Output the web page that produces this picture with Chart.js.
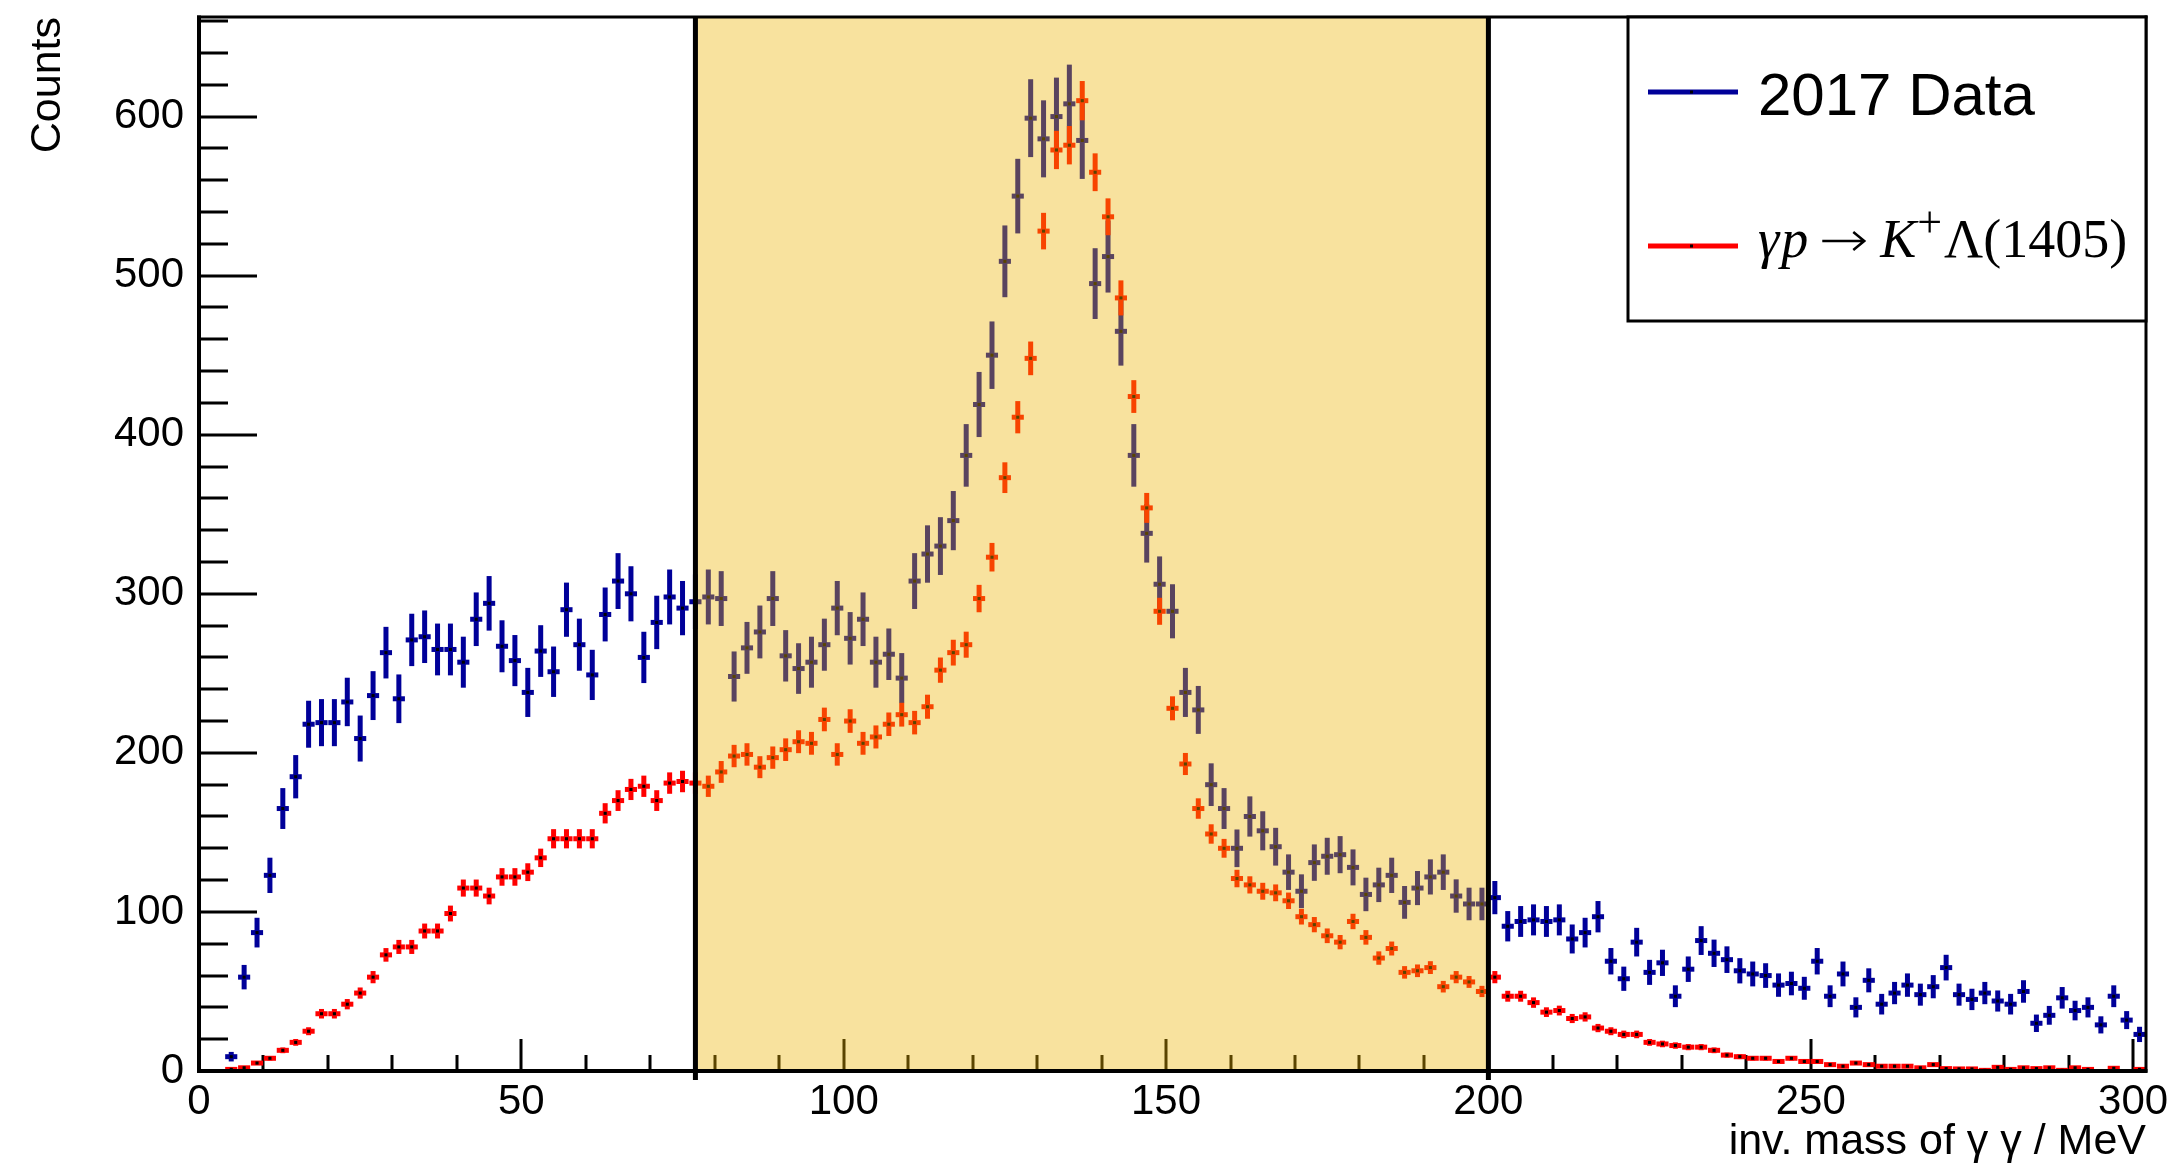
<!DOCTYPE html>
<html>
<head>
<meta charset="utf-8">
<script src="https://cdn.jsdelivr.net/npm/chart.js@4.4.0/dist/chart.umd.min.js"></script>
<style>
  html, body { margin: 0; padding: 0; background: #fff; }
  canvas { display: block; }
</style>
</head>
<body>
<canvas id="c" width="2172" height="1168"></canvas>
<script>
// histogram: 2 MeV bins from 0 to 302 MeV, values are bin contents
const binWidth = 2;
const xRange = [0, 302];
const yRange = [0, 662.6];
const binCentres = [];
for (let m = xRange[0] + binWidth / 2; m < xRange[1]; m += binWidth) binCentres.push(m);

// 2017 data (counts per bin)
const dataCounts = [
  null, null, 9, 59, 87, 123, 165, 185, 218, 219,
  219, 232, 209, 236, 263, 234, 271, 273, 265, 265,
  257, 284, 294, 267, 258, 238, 264, 251, 290, 268,
  249, 287, 308, 300, 260, 282, 298, 291, 295, 298,
  297, 248, 266, 276, 297, 261, 253, 257, 268, 291,
  272, 284, 257, 262, 247, 308, 325, 330, 346, 387,
  419, 450, 509, 550, 599, 586, 600, 608, 585, 495,
  512, 465, 387, 338, 306, 289, 238, 227, 180, 165,
  140, 160, 151, 141, 125, 113, 131, 135, 136, 128,
  111, 117, 123, 106, 115, 122, 125, 110, 105, 105,
  109, 91, 94, 95, 94, 95, 83, 87, 97, 69,
  58, 81, 62, 68, 47, 64, 82, 74, 70, 63,
  61, 60, 54, 55, 52, 69, 47, 61, 40, 57,
  42, 49, 54, 48, 53, 65, 48, 45, 49, 44,
  42, 50, 30, 35, 46, 38, 40, 29, 47, 32,
  23
];

// simulation gamma p -> K+ Lambda(1405), scaled
const mcCounts = [
  null, null, 1, 2, 5, 8, 13, 18, 25, 36,
  36, 42, 49, 59, 73, 78, 78, 88, 88, 99,
  115, 115, 110, 122, 122, 125, 134, 146, 146, 146,
  146, 162, 170, 177, 179, 170, 181, 182, 181, 179,
  188, 198, 199, 191, 197, 202, 207, 206, 221, 199,
  220, 206, 210, 218, 224, 219, 229, 252, 263, 268,
  297, 323, 373, 411, 448, 528, 579, 582, 610, 565,
  537, 486, 424, 354, 289, 228, 193, 165, 149, 140,
  121, 117, 113, 112, 107, 97, 92, 85, 81, 94,
  84, 71, 77, 62, 63, 65, 53, 59, 56, 50,
  59, 47, 47, 43, 37, 38, 33, 34, 27, 25,
  23, 23, 18, 17, 16, 15, 15, 13, 10, 9,
  8, 8, 6, 8, 6, 6, 4, 3, 5, 4,
  3, 3, 3, 2, 4, 1.5, 1.3, 1.3, 0.4, 2.3,
  1, 2, 1.5, 2, 0.4, 2, 1, null, 1.7, null,
  1
];

const xTickValues = [0, 50, 100, 150, 200, 250, 300];
const yTickValues = [0, 100, 200, 300, 400, 500, 600];
const signalWindow = [77, 200];
const seriesLabels = ['2017 Data', 'γp → K⁺Λ(1405)'];

const SANS = "'Liberation Sans', Arial, Helvetica, sans-serif";
const SERIF = "'Liberation Serif', 'Times New Roman', serif";

function toPoints(counts) {
  const pts = [];
  counts.forEach((v, i) => { if (v !== null) pts.push({ x: binCentres[i], y: v }); });
  return pts;
}

// ROOT-like drawing: inside ticks, error crosses, shaded window, frame, legend
const rootStyle = {
  id: 'rootStyle',
  beforeDatasetsDraw(chart) {
    const ctx = chart.ctx, xs = chart.scales.x, ys = chart.scales.y, a = chart.chartArea;
    ctx.save();
    ctx.fillStyle = '#000';
    for (let v = 0; v <= yRange[1]; v += 20) {
      const py = Math.round(ys.getPixelForValue(v));
      const len = v % 100 === 0 ? 58 : 29;
      ctx.fillRect(a.left, py - 1.5, len, 3);
    }
    for (let v = 0; v <= xRange[1]; v += 10) {
      const px = Math.round(xs.getPixelForValue(v));
      const len = v % 50 === 0 ? 32 : 16;
      ctx.fillRect(px - 1.5, a.bottom - len, 3, len);
    }
    // error bars, data first then simulation on top
    [0, 1].forEach(di => {
      const ds = chart.data.datasets[di];
      ctx.fillStyle = ds.errorColor;
      ds.data.forEach(p => {
        const err = ds.errorScale * Math.sqrt(p.y);
        const px = xs.getPixelForValue(p.x);
        const py = ys.getPixelForValue(p.y);
        const yt = ys.getPixelForValue(Math.min(p.y + err, yRange[1]));
        const yb = ys.getPixelForValue(Math.max(p.y - err, 0));
        ctx.fillRect(px - 2.5, yt, 5, Math.max(yb - yt, 1));
        const x0 = xs.getPixelForValue(p.x - binWidth * 0.47);
        const x1 = xs.getPixelForValue(p.x + binWidth * 0.47);
        ctx.fillRect(x0, py - 2.5, x1 - x0, 5);
      });
    });
    ctx.restore();
  },
  afterDatasetsDraw(chart) {
    const ctx = chart.ctx, xs = chart.scales.x, a = chart.chartArea;
    const xl = xs.getPixelForValue(signalWindow[0]);
    const xr = xs.getPixelForValue(signalWindow[1]);
    ctx.save();
    ctx.fillStyle = 'rgba(236, 178, 0, 0.38)';
    ctx.fillRect(xl, a.top, xr - xl, a.bottom - a.top);
    ctx.fillStyle = '#000';
    ctx.fillRect(xl - 2.5, a.top, 5, a.bottom - a.top + 9);
    ctx.fillRect(xr - 2.5, a.top, 5, a.bottom - a.top + 9);
    // frame
    ctx.fillRect(a.left - 2, a.top - 1.5, 4, a.bottom - a.top + 3);
    ctx.fillRect(a.left - 2, a.bottom - 2, a.right - a.left + 3.5, 4);
    ctx.fillRect(a.left - 2, a.top - 1.5, a.right - a.left + 3.5, 3);
    ctx.fillRect(a.right - 1.5, a.top - 1.5, 3, a.bottom - a.top + 3);
    ctx.restore();
  },
  afterDraw(chart) {
    const ctx = chart.ctx, a = chart.chartArea;
    const left = 1628, top = a.top, right = a.right, bottom = 321;
    ctx.save();
    ctx.fillStyle = '#fff';
    ctx.fillRect(left, top, right - left, bottom - top);
    ctx.strokeStyle = '#000';
    ctx.lineWidth = 3;
    ctx.strokeRect(left, top, right - left, bottom - top);

    const rows = [
      { y: 92, color: chart.data.datasets[0].errorColor },
      { y: 246, color: chart.data.datasets[1].errorColor }
    ];
    rows.forEach(r => {
      ctx.fillStyle = r.color;
      ctx.fillRect(1648, r.y - 2.5, 90, 5);
      ctx.fillStyle = '#000';
      ctx.fillRect(1690, r.y - 1.5, 3, 3);
    });

    ctx.fillStyle = '#000';
    ctx.textBaseline = 'alphabetic';
    ctx.textAlign = 'left';
    ctx.font = '60px ' + SANS;
    ctx.fillText(seriesLabels[0], 1758, 115);

    // gamma p -> K+ Lambda(1405), typeset in pieces
    let x = 1758;
    const base = 257;
    ctx.font = 'italic 54px ' + SERIF;
    ctx.fillText('γ', x, base); x += ctx.measureText('γ').width + 2;
    ctx.fillText('p', x, base); x += ctx.measureText('p').width + 14;
    // thin arrow
    const ay = base - 16, aw = 42;
    ctx.strokeStyle = '#000';
    ctx.lineWidth = 2.5;
    ctx.beginPath();
    ctx.moveTo(x, ay); ctx.lineTo(x + aw, ay);
    ctx.moveTo(x + aw - 11, ay - 9); ctx.lineTo(x + aw, ay); ctx.lineTo(x + aw - 11, ay + 9);
    ctx.stroke();
    x += aw + 16;
    ctx.font = 'italic 54px ' + SERIF;
    ctx.fillText('K', x, base); x += ctx.measureText('K').width + 1;
    ctx.font = '44px ' + SERIF;
    ctx.fillText('+', x, base - 20); x += ctx.measureText('+').width + 2;
    ctx.font = '54px ' + SERIF;
    ctx.fillText('Λ(1405)', x, base);
    ctx.restore();
  }
};

new Chart(document.getElementById('c').getContext('2d'), {
  type: 'scatter',
  data: {
    datasets: [
      {
        label: seriesLabels[0],
        data: toPoints(dataCounts),
        pointStyle: 'rect',
        pointRadius: 2.2,
        borderWidth: 0,
        backgroundColor: '#000',
        borderColor: '#000',
        errorColor: '#000099',
        errorScale: 1,
        order: 2
      },
      {
        label: seriesLabels[1],
        data: toPoints(mcCounts),
        pointStyle: 'rect',
        pointRadius: 2.2,
        borderWidth: 0,
        backgroundColor: '#000',
        borderColor: '#000',
        errorColor: '#ff0000',
        errorScale: 0.5,
        order: 1
      }
    ]
  },
  options: {
    responsive: false,
    animation: false,
    devicePixelRatio: 1,
    layout: { padding: { left: 0, right: 26, top: 17, bottom: 0 } },
    plugins: {
      legend: { display: false },
      tooltip: { enabled: false }
    },
    scales: {
      x: {
        type: 'linear',
        min: xRange[0],
        max: xRange[1],
        afterFit: s => { s.height = 97; s.paddingLeft = 0; s.paddingRight = 0; },
        afterBuildTicks: s => { s.ticks = xTickValues.map(v => ({ value: v })); },
        grid: { display: false, drawTicks: false },
        border: { display: false },
        ticks: {
          color: '#000',
          padding: 6,
          maxRotation: 0,
          autoSkip: false,
          font: { family: SANS, size: 42 }
        },
        title: {
          display: true,
          text: 'inv. mass of γ γ / MeV',
          align: 'end',
          color: '#000',
          font: { family: SANS, size: 43 },
          padding: { top: 0, bottom: 0 }
        }
      },
      y: {
        type: 'linear',
        min: yRange[0],
        max: yRange[1],
        afterFit: s => { s.width = 199; s.paddingTop = 0; s.paddingBottom = 0; },
        afterBuildTicks: s => { s.ticks = yTickValues.map(v => ({ value: v })); },
        grid: { display: false, drawTicks: false },
        border: { display: false },
        ticks: {
          color: '#000',
          padding: 15,
          autoSkip: false,
          font: { family: SANS, size: 42 }
        },
        title: {
          display: true,
          text: 'Counts',
          align: 'end',
          color: '#000',
          font: { family: SANS, size: 43 },
          padding: { top: 22, bottom: 0 }
        }
      }
    }
  },
  plugins: [rootStyle]
});
</script>
</body>
</html>
